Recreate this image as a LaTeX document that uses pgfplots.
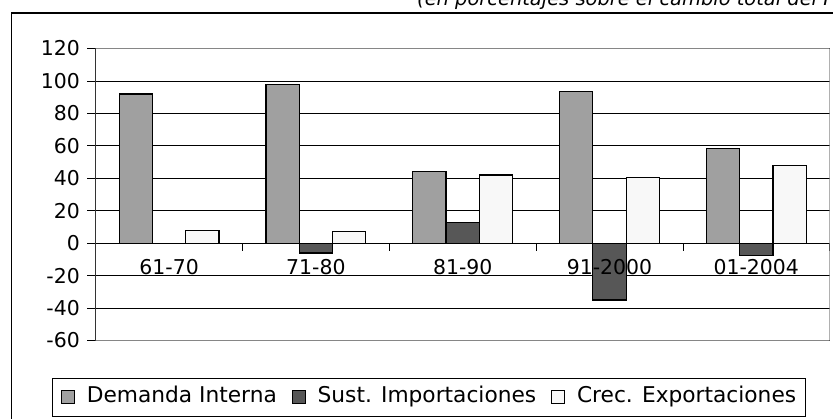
\documentclass[border=0pt]{standalone}
\usepackage{pgfplots}
\pgfplotsset{compat=1.18}
\usepackage{fontspec}
\setmainfont{DejaVu Sans}

\definecolor{demanda}{HTML}{A0A0A0}
\definecolor{sust}{HTML}{575757}
\definecolor{crec}{HTML}{F8F8F8}
\definecolor{boxgray}{HTML}{868686}

\newcommand{\chartfont}{\fontsize{20.5}{24}\selectfont}
\newcommand{\legendfont}{\fontsize{21.8}{25}\selectfont}

\pgfplotsset{
  sq legend/.style={
    legend image code/.code={\draw[##1, line width=0.8bp] (0bp,-6.5bp) rectangle (13bp,6.5bp);}
  },
}
\tikzset{
  period/.style={font=\chartfont, inner sep=0pt, anchor=center, yshift=-23.4bp},
}

\begin{document}
\begin{tikzpicture}[x=1bp,y=1bp]
% page area
\path (0,0) rectangle (833,418);

% outer frame (continues past the page edges)
\draw[line width=1.2bp, overlay] (900,405) -- (11.7,405) -- (11.7,-50);

% subtitle
\node[overlay, anchor=base west, inner sep=0pt, font=\itshape\fontsize{19.5}{22}\selectfont]
  at (417,412) {(en porcentajes sobre el cambio total del PIB)};

\begin{axis}[
  at={(95.7bp,77.5bp)}, anchor=south west,
  width=734bp, height=292bp, scale only axis,
  xmin=-0.5, xmax=4.5, ymin=-60, ymax=120,
  ytick={-60,-40,...,120},
  xtick={0,...,4},
  xticklabels={},
  minor xtick={0.5,1.5,2.5,3.5,4.5},
  axis x line=middle, axis y line=left,
  x axis line style={-, line width=1.2bp, black},
  y axis line style={-, line width=1bp, black!80},
  tick align=outside,
  major tick length=8.4bp, minor tick length=7.7bp,
  major x tick style={draw=none},
  minor x tick style={black, line width=0.8bp},
  ytick style={black, line width=0.8bp},
  ymajorgrids,
  major grid style={black, line width=0.8bp},
  ticklabel style={font=\chartfont, text=black},
  yticklabel style={xshift=-4bp},
  /pgf/number format/assume math mode=true,
  legend columns=3,
  legend style={
    at={(-0.06,-0.261)}, anchor=south west,
    draw=black, line width=0.8bp, fill=white,
    font=\legendfont,
    inner xsep=9bp, inner ysep=9.5bp,
    nodes={inner sep=0pt, text height=15bp, text depth=4bp},
    /tikz/every odd column/.append style={column sep=12bp},
    /tikz/every even column/.append style={column sep=15bp},
  },
  legend cell align=left,
]

\addplot[ybar, bar width=0.227, bar shift=-0.227, fill=demanda, draw=black, line width=1.2bp, sq legend]
  coordinates {(0,92) (1,98) (2,44) (3,93.5) (4,58.5)};
\addplot[ybar, bar width=0.227, bar shift=0, fill=sust, draw=black, line width=1.2bp, sq legend]
  coordinates {(0,0) (1,-6) (2,12.5) (3,-35) (4,-7.5)};
\addplot[ybar, bar width=0.227, bar shift=0.227, fill=crec, draw=black, line width=1.2bp, sq legend]
  coordinates {(0,8) (1,7) (2,42) (3,40.5) (4,48)};

\legend{Demanda Interna, Sust. Importaciones, Crec. Exportaciones}

% period names below the zero line, set over the bars
\node[period] at (axis cs:0,0) {61-70};
\node[period] at (axis cs:1,0) {71-80};
\node[period] at (axis cs:2,0) {81-90};
\node[period] at (axis cs:3,0) {91-2000};
\node[period] at (axis cs:4,0) {01-2004};

% plot area border
\draw[boxgray, line width=1.2bp] (rel axis cs:0,0) -- (rel axis cs:1,0) -- (rel axis cs:1,1) -- (rel axis cs:0,1);
\end{axis}
\end{tikzpicture}
\end{document}
